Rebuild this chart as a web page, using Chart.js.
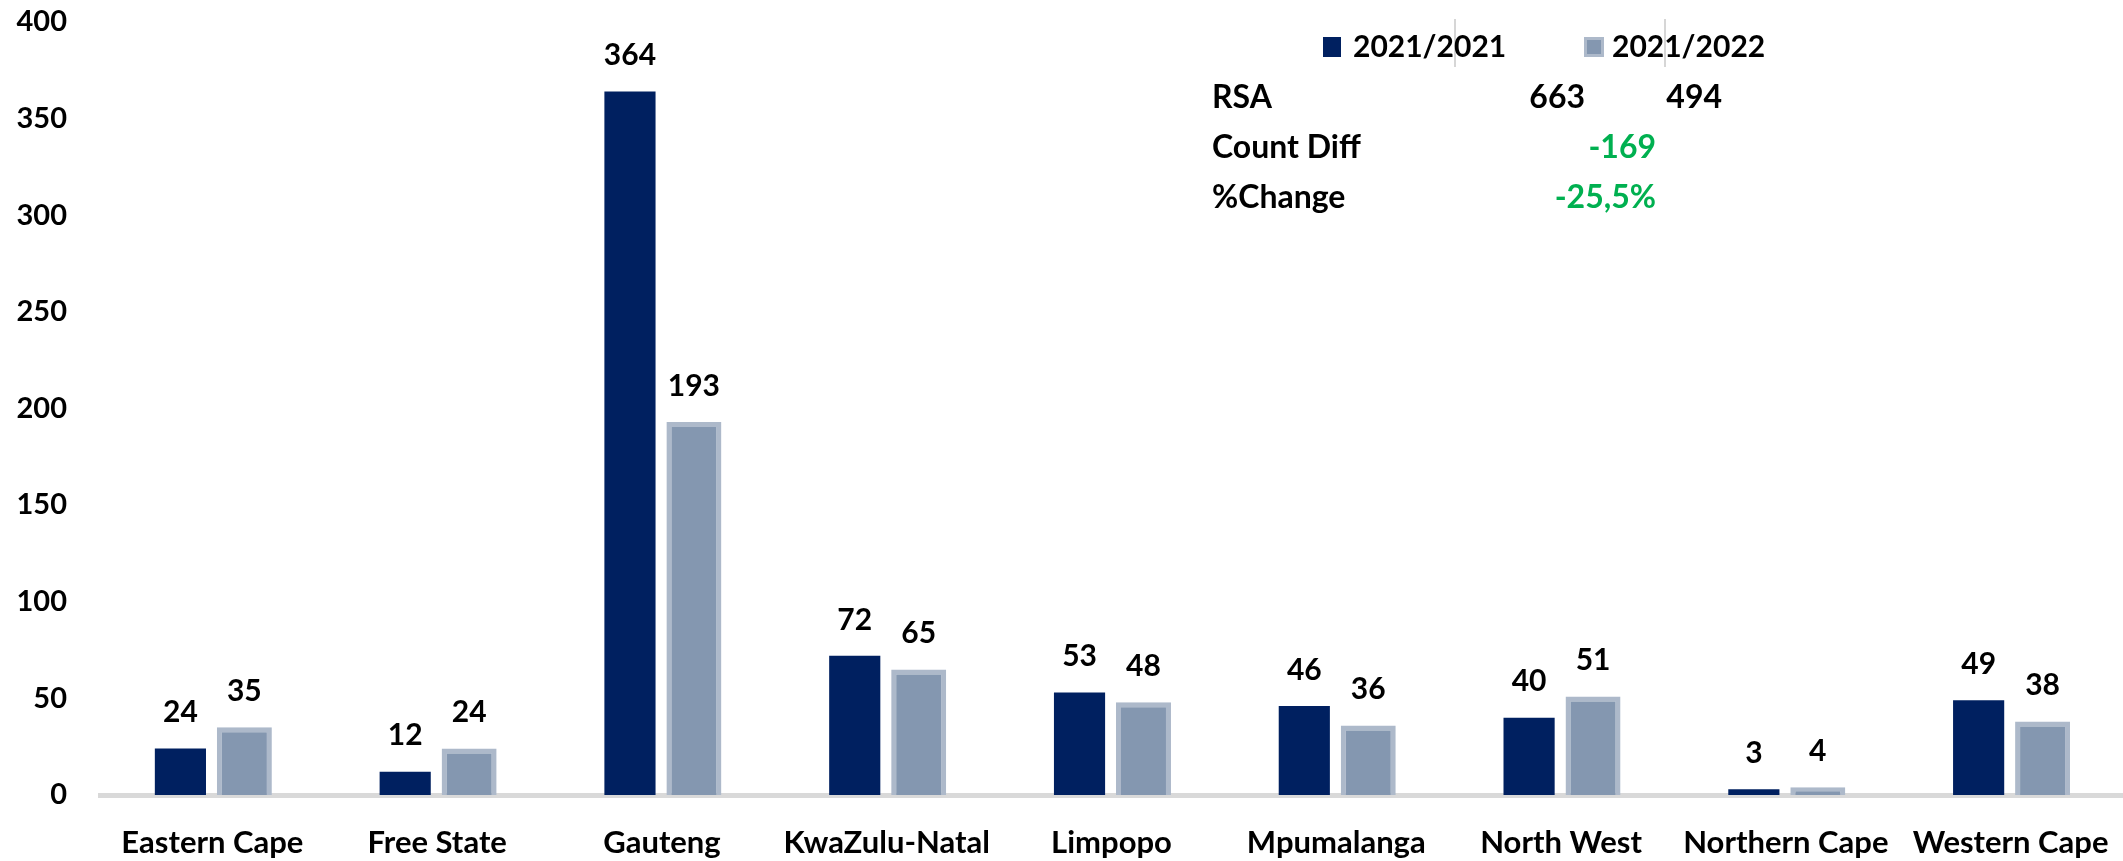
<!DOCTYPE html>
<html>
<head>
<meta charset="utf-8">
<script src="https://cdn.jsdelivr.net/npm/chart.js@4.4.1/dist/chart.umd.min.js"></script>
<style>
  html, body { margin: 0; padding: 0; background: #ffffff; }
  #wrap { width: 2123px; height: 861px; position: relative; }
</style>
</head>
<body>
<div id="wrap"><canvas id="provChart"></canvas></div>
<script>
const provinces = ['Eastern Cape', 'Free State', 'Gauteng', 'KwaZulu-Natal', 'Limpopo',
  'Mpumalanga', 'North West', 'Northern Cape', 'Western Cape'];
const period1 = [24, 12, 364, 72, 53, 46, 40, 3, 49];
const period2 = [35, 24, 193, 65, 48, 36, 51, 4, 38];
const seriesNames = ['2021/2021', '2021/2022'];
const yTicks = [0, 50, 100, 150, 200, 250, 300, 350, 400];

// summary box in the top right
const rsaTotals = [663, 494];
const countDiff = '-169';
const pctChange = '-25,5%';

const FONT = 'Lato, "Open Sans", sans-serif';
const DARK = '#002060';
const LIGHT = '#8497B0';
const LIGHT_EDGE = '#ADB9CA';
const GREEN = '#00B050';

// value labels above each bar
const barLabels = {
  id: 'barLabels',
  afterDatasetsDraw(chart) {
    const ctx = chart.ctx;
    ctx.save();
    ctx.font = 'bold 30px ' + FONT;
    ctx.fillStyle = '#000000';
    ctx.textAlign = 'center';
    ctx.textBaseline = 'middle';
    chart.data.datasets.forEach((ds, i) => {
      chart.getDatasetMeta(i).data.forEach((bar, j) => {
        ctx.fillText(String(ds.data[j]), bar.x, bar.y - 36);
      });
    });
    ctx.restore();
  }
};

// legend + RSA totals table, drawn like the embedded excel box
const summaryBox = {
  id: 'summaryBox',
  afterDraw(chart) {
    const ctx = chart.ctx;
    const ds = chart.data.datasets;
    ctx.save();

    // faint cell lines
    ctx.strokeStyle = '#c8c8c8';
    ctx.lineWidth = 1.5;
    [1455, 1665].forEach(x => {
      ctx.beginPath();
      ctx.moveTo(x, 19);
      ctx.lineTo(x, 67);
      ctx.stroke();
    });

    // legend
    ctx.fillStyle = ds[0].backgroundColor;
    ctx.fillRect(1323, 37, 18, 20);
    ctx.fillStyle = ds[1].borderColor;
    ctx.fillRect(1584, 37, 20, 20);
    ctx.fillStyle = ds[1].backgroundColor;
    ctx.fillRect(1587, 40, 14, 14);

    ctx.font = 'bold 30px ' + FONT;
    ctx.fillStyle = '#000000';
    ctx.textBaseline = 'middle';
    ctx.textAlign = 'left';
    ctx.fillText(ds[0].label, 1353, 47);
    ctx.fillText(ds[1].label, 1612, 47);

    // table rows
    ctx.font = 'bold 32px ' + FONT;
    ctx.fillText('RSA', 1212, 98);
    ctx.fillText('Count Diff', 1212, 148);
    ctx.fillText('%Change', 1212, 198);

    ctx.textAlign = 'right';
    ctx.fillText(String(rsaTotals[0]), 1585, 98);
    ctx.fillText(String(rsaTotals[1]), 1722, 98);
    ctx.fillStyle = GREEN;
    ctx.fillText(countDiff, 1656, 148);
    ctx.fillText(pctChange, 1656, 198);

    ctx.restore();
  }
};

const ctx = document.getElementById('provChart').getContext('2d');
new Chart(ctx, {
  type: 'bar',
  data: {
    labels: provinces,
    datasets: [
      {
        label: seriesNames[0],
        data: period1,
        backgroundColor: DARK,
        borderWidth: 0,
        categoryPercentage: 0.569,
        barPercentage: 0.8
      },
      {
        label: seriesNames[1],
        data: period2,
        backgroundColor: LIGHT,
        borderColor: LIGHT_EDGE,
        borderWidth: 5,
        borderSkipped: 'start',
        categoryPercentage: 0.569,
        barPercentage: 0.86
      }
    ]
  },
  options: {
    responsive: true,
    maintainAspectRatio: false,
    animation: false,
    layout: { padding: { top: 22, left: 0, right: 0, bottom: 0 } },
    plugins: {
      legend: { display: false },
      tooltip: { enabled: false }
    },
    scales: {
      x: {
        afterFit(scale) {
          scale.height = 66;
          scale.paddingLeft = 0;
          scale.paddingRight = 0;
        },
        grid: { display: false, drawTicks: false },
        border: { display: true, color: '#D9D9D9', width: 5 },
        ticks: {
          color: '#000000',
          padding: 29,
          maxRotation: 0,
          autoSkip: false,
          font: { family: FONT, size: 31, weight: 'bold' }
        }
      },
      y: {
        min: 0,
        max: 400,
        afterBuildTicks(scale) {
          scale.ticks = yTicks.map(v => ({ value: v }));
        },
        afterFit(scale) {
          scale.width = 100;
          scale.paddingTop = 0;
          scale.paddingBottom = 0;
        },
        grid: { display: false, drawTicks: false },
        border: { display: false },
        ticks: {
          color: '#000000',
          padding: 33,
          font: { family: FONT, size: 29, weight: 'bold' }
        }
      }
    }
  },
  plugins: [barLabels, summaryBox]
});
</script>
</body>
</html>
